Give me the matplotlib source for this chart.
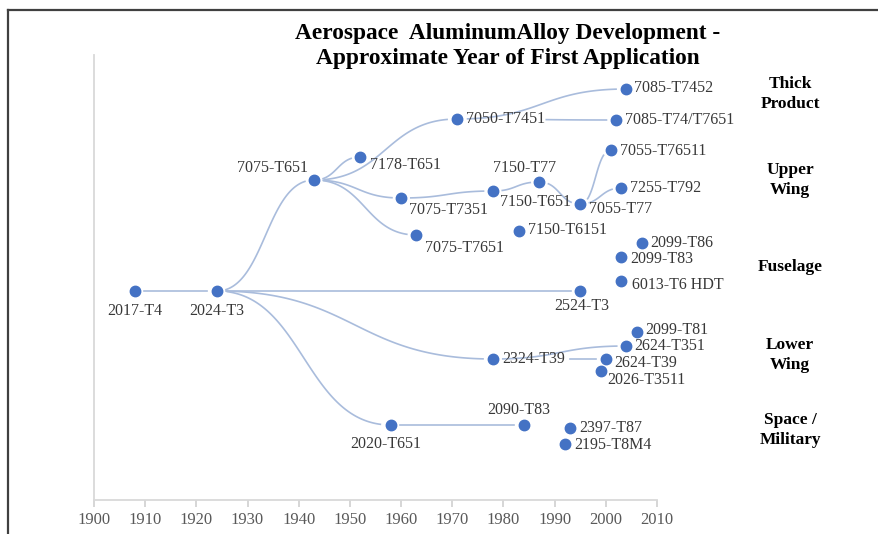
import numpy as np
import matplotlib.pyplot as plt
from matplotlib.lines import Line2D

plt.rcParams['font.family'] = ['Liberation Serif', 'DejaVu Serif']

# alloy / temper, approximate year of first application, vertical level (no real scale)
names = ['2017-T4', '2024-T3', '7075-T651', '7178-T651', '7050-T7451',
         '7085-T7452', '7085-T74/T7651', '7055-T76511', '7150-T77', '7075-T7351',
         '7150-T651', '7055-T77', '7255-T792', '7075-T7651', '7150-T6151',
         '2099-T86', '2099-T83', '6013-T6 HDT', '2524-T3', '2099-T81',
         '2624-T351', '2324-T39', '2624-T39', '2026-T3511', '2020-T651',
         '2090-T83', '2397-T87', '2195-T8M4']
years = [1908, 1924, 1943, 1952, 1971,
         2004, 2002, 2001, 1987, 1960,
         1978, 1995, 2003, 1963, 1983,
         2007, 2003, 2003, 1995, 2006,
         2004, 1978, 2000, 1999, 1958,
         1984, 1993, 1992]
levels = [20.9, 20.9, 32.0, 34.3, 38.1,
          41.1, 38.0, 35.0, 31.8, 30.2,
          30.9, 29.6, 31.2, 26.5, 26.9,
          25.7, 24.3, 21.9, 20.9, 16.8,
          15.4, 14.1, 14.1, 12.9, 7.5,
          7.5, 7.2, 5.6]

# which alloy grew out of which
links = [('2017-T4', '2024-T3'), ('2024-T3', '2524-T3'), ('2024-T3', '7075-T651'),
         ('7075-T651', '7050-T7451'), ('7075-T651', '7178-T651'),
         ('7075-T651', '7075-T7351'), ('7075-T651', '7075-T7651'),
         ('7075-T7351', '7150-T651'), ('7150-T651', '7150-T77'),
         ('7150-T77', '7055-T77'), ('7055-T77', '7055-T76511'),
         ('7055-T77', '7255-T792'), ('7050-T7451', '7085-T7452'),
         ('7050-T7451', '7085-T74/T7651'), ('2024-T3', '2324-T39'),
         ('2024-T3', '2020-T651'), ('2324-T39', '2624-T351'),
         ('2324-T39', '2624-T39'), ('2020-T651', '2090-T83')]

groups = ['Thick\nProduct', 'Upper\nWing', 'Fuselage', 'Lower\nWing', 'Space /\nMilitary']
group_levels = [40.6, 32.0, 23.3, 14.5, 7.0]

# label placement: offset in pixels from the point, horizontal alignment
label_pos = {
    '2017-T4': (0, -20, 'center'), '2024-T3': (0, -20, 'center'),
    '7075-T651': (-6, 12, 'right'), '7178-T651': (10, -8, 'left'),
    '7050-T7451': (9, 0, 'left'), '7085-T7452': (8, 1, 'left'),
    '7085-T74/T7651': (9, 0, 'left'), '7055-T76511': (9, -1, 'left'),
    '7150-T77': (-15, 14, 'center'), '7075-T7351': (8, -12, 'left'),
    '7150-T651': (7, -11, 'left'), '7055-T77': (9, -5, 'left'),
    '7255-T792': (9, 0, 'left'), '7075-T7651': (9, -13, 'left'),
    '7150-T6151': (9, 1, 'left'), '2099-T86': (9, 0, 'left'),
    '2099-T83': (9, -2, 'left'), '6013-T6 HDT': (11, -4, 'left'),
    '2524-T3': (2, -15, 'center'), '2099-T81': (9, 2, 'left'),
    '2624-T351': (8, 0, 'left'), '2324-T39': (9, 0, 'left'),
    '2624-T39': (8, -4, 'left'), '2026-T3511': (7, -9, 'left'),
    '2020-T651': (-5, -19, 'center'), '2090-T83': (-5, 15, 'center'),
    '2397-T87': (9, 0, 'left'), '2195-T8M4': (9, -1, 'left'),
}
start_gap = {('7050-T7451', '7085-T74/T7651'): 88,
             ('2324-T39', '2624-T39'): 76}

fig = plt.figure(figsize=(8.79, 5.34), dpi=100)
ax = fig.add_axes([94 / 879, 34 / 534, 563 / 879, 445 / 534])
ax.set_xlim(1900, 2010)
ax.set_ylim(0, 44.5)

pos = {n: (x, y) for n, x, y in zip(names, years, levels)}


def link_curve(p0, p1, n=120):
    (x0, y0), (x1, y1) = p0, p1
    t = np.linspace(0, 1, n)
    cx0, cx1 = x0 + 0.5 * (x1 - x0), x1 - 0.5 * (x1 - x0)
    bx = (1 - t)**3 * x0 + 3 * (1 - t)**2 * t * cx0 + 3 * (1 - t) * t**2 * cx1 + t**3 * x1
    by = (1 - t)**3 * y0 + 3 * (1 - t)**2 * t * y0 + 3 * (1 - t) * t**2 * y1 + t**3 * y1
    return bx, by


for a, b in links:
    bx, by = link_curve(pos[a], pos[b])
    disp = ax.transData.transform(np.c_[bx, by])
    d0 = np.hypot(*(disp - disp[0]).T)
    d1 = np.hypot(*(disp - disp[-1]).T)
    keep = (d0 > start_gap.get((a, b), 9)) & (d1 > 9)
    ax.plot(bx[keep], by[keep], color='#a9bcdc', lw=1.2, zorder=1)

ax.plot(years, levels, 'o', color='#4472c4', ms=7.5, zorder=3)

for n, x, y in zip(names, years, levels):
    dx, dy, ha = label_pos[n]
    ax.annotate(n, (x, y), xytext=(dx * 0.72, dy * 0.72), textcoords='offset points',
                ha=ha, va='center', fontsize=11.5, color='#383838')

for g, gy in zip(groups, group_levels):
    ax.text(2036, gy, g, ha='center', va='center', fontsize=12.5, fontweight='bold',
            linespacing=1.35, clip_on=False)

fig.text(508 / 879, 1 - 46 / 534,
         'Aerospace  AluminumAlloy Development -\nApproximate Year of First Application',
         ha='center', va='center', fontsize=16.8, fontweight='bold', linespacing=1.3)

ax.set_xticks(np.arange(1900, 2011, 10))
ax.set_yticks([])
ax.tick_params(axis='x', direction='out', length=5, width=1.2, color='#d0d0d0',
               labelsize=12, labelcolor='#595959', pad=4)
for s in ['top', 'right']:
    ax.spines[s].set_visible(False)
for s in ['left', 'bottom']:
    ax.spines[s].set_color('#d9d9d9')
    ax.spines[s].set_linewidth(1.3)

# outer frame, top and left edges only
fig.add_artist(Line2D([8 / 879, 1], [1 - 10 / 534, 1 - 10 / 534], color='#404040', lw=1.6))
fig.add_artist(Line2D([8 / 879, 8 / 879], [0, 1 - 10 / 534], color='#404040', lw=1.6))

fig.savefig('out.png', dpi=100)
